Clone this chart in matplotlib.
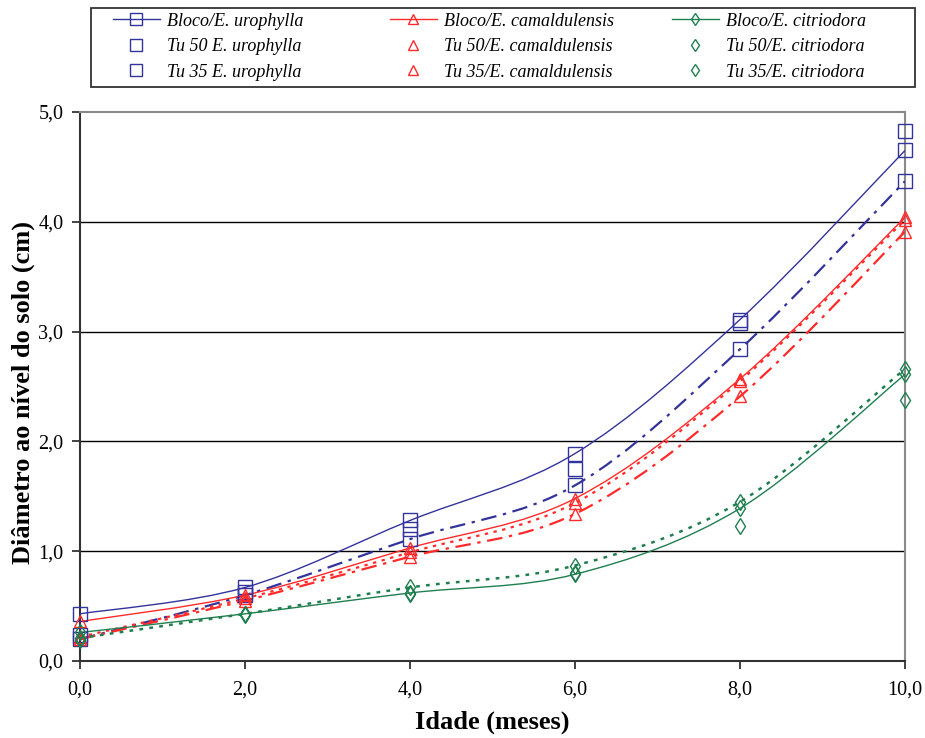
import matplotlib
matplotlib.use('Agg')
import matplotlib.pyplot as plt
from matplotlib.path import Path
from matplotlib.patches import PathPatch, Rectangle
from matplotlib.lines import Line2D
from matplotlib.ticker import FuncFormatter

plt.rcParams['font.family'] = ['Liberation Serif', 'DejaVu Serif']

# idade (meses)
idade = [0, 2, 4, 6, 8, 10]

# E. urophylla
uro_bloco = [0.43, 0.67, 1.28, 1.89, 3.11, 4.65]
uro_tu50 = [0.24, 0.63, 1.20, 1.75, 3.08, 4.83]
uro_tu35 = [0.20, 0.60, 1.11, 1.60, 2.84, 4.37]

# E. camaldulensis
cam_bloco = [0.36, 0.60, 1.03, 1.48, 2.57, 4.04]
cam_tu50 = [0.22, 0.57, 0.99, 1.44, 2.55, 4.02]
cam_tu35 = [0.20, 0.55, 0.95, 1.34, 2.41, 3.91]

# E. citriodora
cit_bloco = [0.26, 0.43, 0.62, 0.79, 1.39, 2.61]
cit_tu50 = [0.21, 0.43, 0.67, 0.87, 1.45, 2.66]
cit_tu35 = [0.19, 0.42, 0.61, 0.80, 1.23, 2.38]

BLUE = '#33339c'
RED = '#ff2a2a'
GREEN = '#1f7f4f'


def smooth_line(ax, x, y, color, ls, lw):
  # excel style smoothed line: catmull-rom segments as cubic bezier
  pts = list(zip(x, y))
  n = len(pts)
  verts = [pts[0]]
  codes = [Path.MOVETO]
  for i in range(n - 1):
    p0 = pts[max(i - 1, 0)]
    p1 = pts[i]
    p2 = pts[i + 1]
    p3 = pts[min(i + 2, n - 1)]
    c1 = (p1[0] + (p2[0] - p0[0]) / 6, p1[1] + (p2[1] - p0[1]) / 6)
    c2 = (p2[0] - (p3[0] - p1[0]) / 6, p2[1] - (p3[1] - p1[1]) / 6)
    verts += [c1, c2, p2]
    codes += [Path.CURVE4] * 3
  ax.add_patch(PathPatch(Path(verts, codes), fill=False, edgecolor=color,
                         linestyle=ls, linewidth=lw, zorder=3))


fig = plt.figure(figsize=(9.25, 7.38), dpi=100)
ax = fig.add_axes([0.0865, 0.1043, 0.8919, 0.7439])

# lines
smooth_line(ax, idade, uro_bloco, BLUE, '-', 1.0)
smooth_line(ax, idade, uro_tu35, BLUE, (0, (7, 3, 1.5, 3)), 1.6)
smooth_line(ax, idade, cam_bloco, RED, '-', 1.0)
smooth_line(ax, idade, cam_tu50, RED, (0, (1.5, 2.5)), 1.6)
smooth_line(ax, idade, cam_tu35, RED, (0, (7, 3, 1.5, 3)), 1.6)
smooth_line(ax, idade, cit_bloco, GREEN, '-', 1.0)
smooth_line(ax, idade, cit_tu50, GREEN, (0, (1.5, 2.5)), 1.8)

# markers
series = [
  (uro_bloco, BLUE, 's', 10), (uro_tu50, BLUE, 's', 10), (uro_tu35, BLUE, 's', 10),
  (cam_bloco, RED, '^', 9), (cam_tu50, RED, '^', 9), (cam_tu35, RED, '^', 9),
  (cit_bloco, GREEN, 'd', 8), (cit_tu50, GREEN, 'd', 8), (cit_tu35, GREEN, 'd', 8),
]
for vals, c, m, ms in series:
  ax.plot(idade, vals, ls='none', marker=m, ms=ms, mfc='none', mec=c,
          mew=1.0, clip_on=False, zorder=4)

ax.set_xlim(0, 10)
ax.set_ylim(0, 5)
ax.set_xticks(idade)
ax.set_yticks([0, 1, 2, 3, 4, 5])
fmt = FuncFormatter(lambda v, p: f'{v:.1f}'.replace('.', ','))
ax.xaxis.set_major_formatter(fmt)
ax.yaxis.set_major_formatter(fmt)
ax.tick_params(direction='out', length=6, width=1.3, labelsize=14.5, color='#333333')
ax.tick_params(axis='x', pad=8)
ax.tick_params(axis='y', pad=6)

for y in [1, 2, 3, 4]:
  ax.axhline(y, color='black', lw=1.0, zorder=1)

for s in ['left', 'bottom']:
  ax.spines[s].set_color('#333333')
  ax.spines[s].set_linewidth(1.5)
for s in ['top', 'right']:
  ax.spines[s].set_color('#8a8a8a')
  ax.spines[s].set_linewidth(1.5)

ax.set_xlabel('Idade (meses)', fontsize=19, fontweight='bold', labelpad=8)
ax.set_ylabel('Diâmetro ao nível do solo (cm)', fontsize=19, fontweight='bold')
ax.yaxis.set_label_coords(-0.0545, 0.49)

# legend: one block per species column, plus the box around all of them
def h(c, m, ms, line):
  return Line2D([], [], color=c, lw=1.0 if line else 0, marker=m, ms=ms,
                mfc='none', mec=c, mew=1.0)

leg_cols = [
  (BLUE, 's', 8, ['Bloco/E. urophylla', 'Tu 50 E. urophylla', 'Tu 35 E. urophylla']),
  (RED, '^', 7, ['Bloco/E. camaldulensis', 'Tu 50/E. camaldulensis', 'Tu 35/E. camaldulensis']),
  (GREEN, 'd', 6, ['Bloco/E. citriodora', 'Tu 50/E. citriodora', 'Tu 35/E. citriodora']),
]
col_x = [0.122, 0.4216, 0.7265]
for (c, m, ms, labs), x0 in zip(leg_cols, col_x):
  hs = [h(c, m, ms, True), h(c, m, ms, False), h(c, m, ms, False)]
  fig.legend(hs, labs, loc='upper left', bbox_to_anchor=(x0, 0.983),
             prop={'style': 'italic', 'size': 13}, frameon=False,
             handlelength=2.6, handletextpad=0.4, labelspacing=0.47,
             borderpad=0, borderaxespad=0)

fig.patches.append(Rectangle((0.0984, 0.8821), 0.8908, 0.107, transform=fig.transFigure,
                             fill=False, edgecolor='#333333', lw=1.3))

fig.savefig('out.png', dpi=100)
